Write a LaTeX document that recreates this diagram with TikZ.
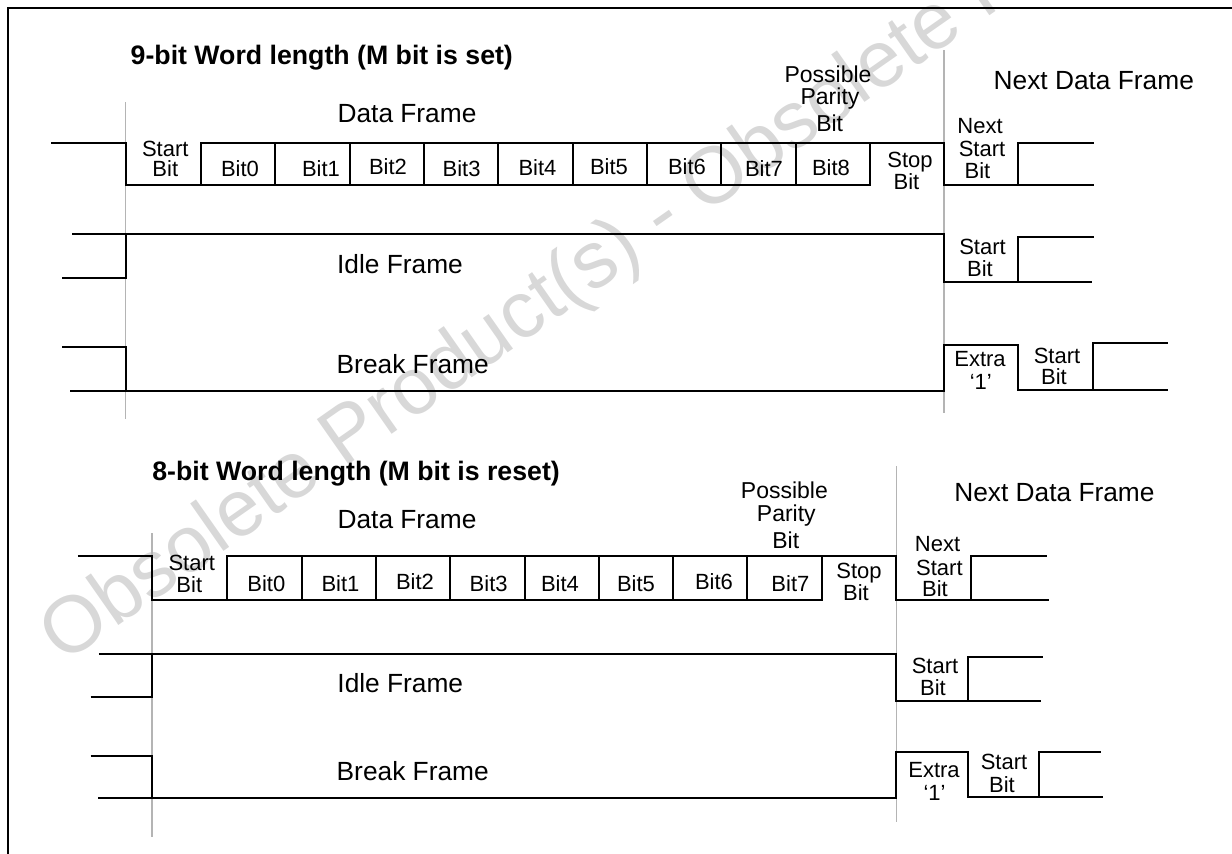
\documentclass[tikz,border=0pt]{standalone}
\usepackage{fontspec}
\setmainfont{Liberation Sans}
\definecolor{guidegray}{RGB}{180,180,180}
\definecolor{wmgray}{RGB}{216,216,216}
\begin{document}
\begin{tikzpicture}[x=1pt,y=-1pt,
  wave/.style={line width=2pt, draw=black},
  guide/.style={line width=1.5pt, draw=guidegray},
  ttl/.style={font=\fontsize{26.7}{30}\selectfont\bfseries, inner sep=0pt, anchor=base west},
  hdr/.style={font=\fontsize{26.3}{30}\selectfont, inner sep=0pt, anchor=base},
  parlbl/.style={font=\fontsize{23}{25}\selectfont, inner sep=0pt, anchor=base},
  lbl/.style={font=\fontsize{22}{24}\selectfont, inner sep=0pt, anchor=base},
  wm/.style={font=\fontsize{80}{90}\selectfont, text=wmgray, inner sep=0pt, anchor=base west, rotate=35}]
\useasboundingbox (0,0) rectangle (1232,854);

% watermark
\node[wm] (wm) at (63,664.5) {Obsolete Product(s) - Obsolete Product(s)};

% outer frame
\draw[wave] (8,854) -- (8,8) -- (1232,8);

% guide lines
\draw[guide] (125.7,102) -- (125.7,419);
\draw[guide] (944,50) -- (944,413);
\draw[guide] (152.2,533.3) -- (152.2,836.7);
\draw[guide] (896.3,466) -- (896.3,821.7);

%================ 9-bit section ================
\node[ttl] (t9) at (130.5,64.3) {9-bit Word length (M bit is set)};
\node[hdr] (df9) at (407,122.1) {Data Frame};
\node[parlbl] (pp9a) at (828,82.2) {Possible};
\node[parlbl] (pp9b) at (830,104.9) {Parity};
\node[parlbl] (pp9c) at (829.7,131) {Bit};
\node[hdr] (ndf9) at (1093.8,89.4) {Next Data Frame};

% data frame waveform
\draw[wave] (51.4,142.7) -- (125.7,142.7) -- (125.7,185) -- (870,185) -- (870,142.7);
\draw[wave] (200.9,185) -- (200.9,142.7) -- (944,142.7) -- (944,185) -- (1094,185);
\foreach \x in {275.2,349.6,423.9,498.3,572.6,646.9,721.3,795.6}
  \draw[wave] (\x,142.7) -- (\x,185);
\draw[wave] (1018,185) -- (1018,142.7) -- (1094,142.7);

\node[lbl] (s9a) at (165.3,156.7) {Start};
\node[lbl] (s9b) at (165.3,176.6) {Bit};
\foreach \x/\y/\i in {240/176/0,321/176/1,388/174.5/2,461.6/176/3,537.5/175/4,609/174.5/5,687/174.5/6,764/176/7,831/175/8}
  \node[lbl] (b9-\i) at (\x,\y) {Bit\i};
\node[lbl] (st9a) at (910,167.5) {Stop};
\node[lbl] (st9b) at (906.5,189) {Bit};
\node[lbl] (ns9a) at (980,133.3) {Next};
\node[lbl] (ns9b) at (982,156.7) {Start};
\node[lbl] (ns9c) at (977.5,178.3) {Bit};

% idle frame
\draw[wave] (62,277.7) -- (125.7,277.7) -- (125.7,234.3);
\draw[wave] (72.4,234.3) -- (944,234.3) -- (944,281.7) -- (1091.7,281.7);
\draw[wave] (1018,281.7) -- (1018,236.7) -- (1094,236.7);
\node[hdr] (if9) at (400,273.6) {Idle Frame};
\node[lbl] (is9a) at (982.5,254) {Start};
\node[lbl] (is9b) at (980,276.7) {Bit};

% break frame
\draw[wave] (62,347) -- (125.7,347) -- (125.7,390.7);
\draw[wave] (70,390.7) -- (944,390.7) -- (944,344.5) -- (1018,344.5) -- (1018,390) -- (1168,390);
\draw[wave] (1092.5,390) -- (1092.5,342.7) -- (1168,342.7);
\node[hdr] (bf9) at (412.7,373.2) {Break Frame};
\node[lbl] (ex9a) at (980,366.7) {Extra};
\node[lbl] (ex9b) at (980.8,389.3) {‘1’};
\node[lbl] (bs9a) at (1057,363.7) {Start};
\node[lbl] (bs9b) at (1054,384.6) {Bit};

%================ 8-bit section ================
\node[ttl] (t8) at (152.2,480) {8-bit Word length (M bit is reset)};
\node[hdr] (df8) at (407,528.3) {Data Frame};
\node[parlbl] (pp8a) at (784.4,498.2) {Possible};
\node[parlbl] (pp8b) at (786.3,521.5) {Parity};
\node[parlbl] (pp8c) at (785.8,548) {Bit};
\node[hdr] (ndf8) at (1054.4,501.1) {Next Data Frame};

% data frame waveform
\draw[wave] (77.9,556) -- (152.2,556) -- (152.2,600) -- (821.7,600) -- (821.7,556);
\draw[wave] (227.4,600) -- (227.4,556) -- (896.3,556) -- (896.3,600) -- (1049,600);
\foreach \x in {301.7,376,450.3,524.6,598.9,673.1,747.4}
  \draw[wave] (\x,556) -- (\x,600);
\draw[wave] (970.8,600) -- (970.8,556) -- (1047.4,556);

\node[lbl] (s8a) at (191.8,570) {Start};
\node[lbl] (s8b) at (189.3,592.7) {Bit};
\foreach \x/\y/\i in {266.3/591/0,340.5/591/1,415/589/2,488.7/591/3,560/591/4,636/591/5,714/589.5/6,790.4/591/7}
  \node[lbl] (b8-\i) at (\x,\y) {Bit\i};
\node[lbl] (st8a) at (859,578.3) {Stop};
\node[lbl] (st8b) at (856,600) {Bit};
\node[lbl] (ns8a) at (937.6,551.7) {Next};
\node[lbl] (ns8b) at (939.4,575) {Start};
\node[lbl] (ns8c) at (935,596.7) {Bit};

% idle frame
\draw[wave] (90.7,696.7) -- (152.2,696.7) -- (152.2,654);
\draw[wave] (98.9,654) -- (896.3,654) -- (896.3,701.3) -- (1040.6,701.3);
\draw[wave] (967.6,701.3) -- (967.6,656.7) -- (1043.4,656.7);
\node[hdr] (if8) at (400.3,692) {Idle Frame};
\node[lbl] (is8a) at (935,673.3) {Start};
\node[lbl] (is8b) at (933,695.7) {Bit};

% break frame
\draw[wave] (90.7,756) -- (152.2,756) -- (152.2,798.3);
\draw[wave] (98,798.3) -- (896.3,798.3) -- (896.3,751.7) -- (967.6,751.7) -- (967.6,796.7) -- (1103,796.7);
\draw[wave] (1039.3,796.7) -- (1039.3,751.7) -- (1101,751.7);
\node[hdr] (bf8) at (412.7,780.9) {Break Frame};
\node[lbl] (ex8a) at (934,777.3) {Extra};
\node[lbl] (ex8b) at (934.5,800.7) {‘1’};
\node[lbl] (bs8a) at (1004,769) {Start};
\node[lbl] (bs8b) at (1002,792.3) {Bit};
\end{tikzpicture}
\end{document}
